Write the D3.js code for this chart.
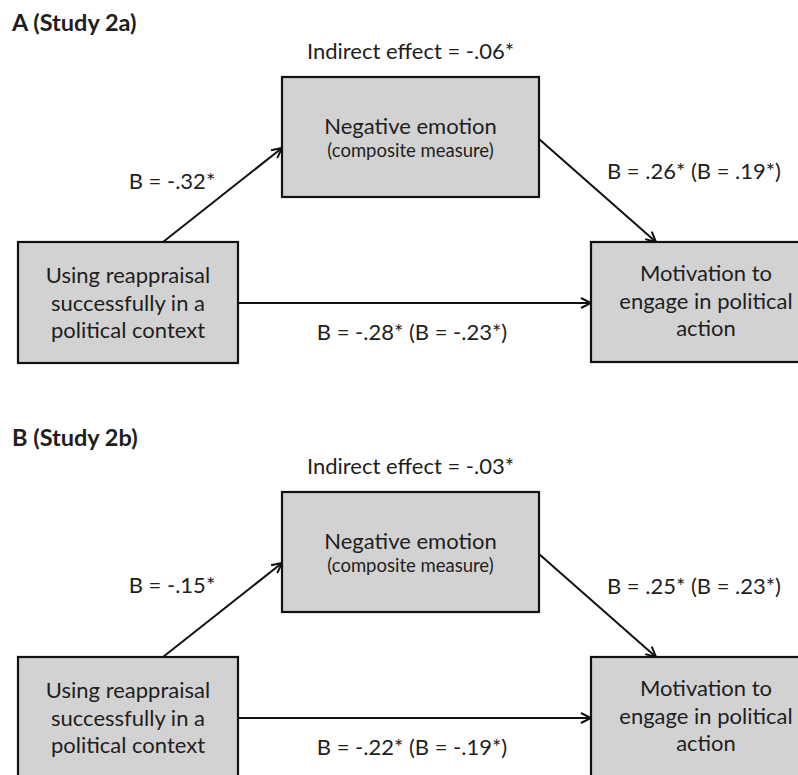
<!DOCTYPE html>
<html>
<head>
<meta charset="utf-8">
<script src="https://cdn.jsdelivr.net/npm/d3@7"></script>
<style>
  html, body { margin: 0; padding: 0; background: #fff; }
  svg { display: block; }
</style>
</head>
<body>
<div id="chart"></div>
<script>
// ---------------------------------- DATA ---------------------------------- //

let panel_titles = ['A (Study 2a)', 'B (Study 2b)'];
let indirect_effects = ['-.06', '-.03'];
let path_a = ['-.32', '-.15'];
let path_b = ['.26', '.25'];
let path_b_adj = ['.19', '.23'];
let path_c = ['-.28', '-.22'];
let path_c_adj = ['-.23', '-.19'];
let predictor_lines = ['Using reappraisal', 'successfully in a', 'political context'];
let mediator_lines = ['Negative emotion', '(composite measure)'];
let outcome_lines = ['Motivation to', 'engage in political', 'action'];

// ---------------------------------- SETTINGS ---------------------------------- //

let img_width = 798;
let img_height = 775;
let panel_offset = 415;
let font = 'Lato, "Open Sans", sans-serif';
let text_color = '#1e1e1e';
let box_fill = '#d2d2d2';
let box_stroke = '#111';
let label_size = 22;
let box_text_size = 22;
let small_size = 18.5;
let title_size = 23.5;
let line_gap = 27.5;

// boxes: x, y, width, height (panel coordinates)
let predictor_box = { x: 18, y: 242, w: 220, h: 121 };
let mediator_box = { x: 282, y: 77, w: 257, h: 120 };
let outcome_box = { x: 591, y: 242, w: 230, h: 120 };
let label_a_y = [189, 178];

// ---------------------------------- CORE IMAGE ---------------------------------- //

let svg = d3.select('#chart')
  .append('svg')
  .attr('width', img_width)
  .attr('height', img_height)
  .style('font-family', font);

svg.append('defs')
  .append('marker')
  .attr('id', 'arrow')
  .attr('viewBox', '0 0 12 12')
  .attr('refX', 11)
  .attr('refY', 6)
  .attr('markerWidth', 12)
  .attr('markerHeight', 12)
  .attr('markerUnits', 'userSpaceOnUse')
  .attr('orient', 'auto')
  .append('path')
  .attr('d', 'M1,1 L11,6 L1,11')
  .attr('fill', 'none')
  .attr('stroke', '#111')
  .attr('stroke-width', 2);

function drawBox(parent, box, lines, first_baseline, sizes) {
  parent.append('rect')
    .attr('x', box.x)
    .attr('y', box.y)
    .attr('width', box.w)
    .attr('height', box.h)
    .attr('fill', box_fill)
    .attr('stroke', box_stroke)
    .attr('stroke-width', 2.2);

  let cx = box.x + box.w / 2;
  parent.selectAll(null)
    .data(lines)
    .enter()
    .append('text')
    .attr('x', cx)
    .attr('y', (d, i) => first_baseline + (sizes ? (i === 0 ? 0 : 23) : i * line_gap))
    .attr('text-anchor', 'middle')
    .attr('fill', text_color)
    .attr('font-size', (d, i) => sizes ? sizes[i] : box_text_size)
    .text(d => d);
}

function drawArrow(parent, x1, y1, x2, y2) {
  parent.append('line')
    .attr('x1', x1)
    .attr('y1', y1)
    .attr('x2', x2)
    .attr('y2', y2)
    .attr('stroke', '#111')
    .attr('stroke-width', 2)
    .attr('marker-end', 'url(#arrow)');
}

function drawLabel(parent, x, y, txt, size, weight, anchor) {
  parent.append('text')
    .attr('x', x)
    .attr('y', y)
    .attr('text-anchor', anchor || 'middle')
    .attr('fill', text_color)
    .attr('font-size', size)
    .attr('font-weight', weight || 'normal')
    .text(txt);
}

// ---------------------------------- PANELS ---------------------------------- //

panel_titles.forEach((title, i) => {
  let g = svg.append('g')
    .attr('transform', `translate(0,${i * panel_offset})`);

  drawLabel(g, 12, 31, title, title_size, 'bold', 'start');
  drawLabel(g, mediator_box.x + mediator_box.w / 2, 59, `Indirect effect = ${indirect_effects[i]}*`, label_size);

  // paths
  drawArrow(g, 163, predictor_box.y, mediator_box.x, 148);
  drawArrow(g, mediator_box.x + mediator_box.w, 139, 656, outcome_box.y);
  drawArrow(g, predictor_box.x + predictor_box.w, 303, outcome_box.x, 303);

  // boxes
  drawBox(g, mediator_box, mediator_lines, 134, [box_text_size, small_size]);
  drawBox(g, predictor_box, predictor_lines, 283);
  drawBox(g, outcome_box, outcome_lines, 281);

  // coefficients
  drawLabel(g, 172, label_a_y[i], `B = ${path_a[i]}*`, label_size);
  drawLabel(g, 694, 179, `B = ${path_b[i]}* (B = ${path_b_adj[i]}*)`, label_size);
  drawLabel(g, 412, 340, `B = ${path_c[i]}* (B = ${path_c_adj[i]}*)`, label_size);
});
</script>
</body>
</html>
